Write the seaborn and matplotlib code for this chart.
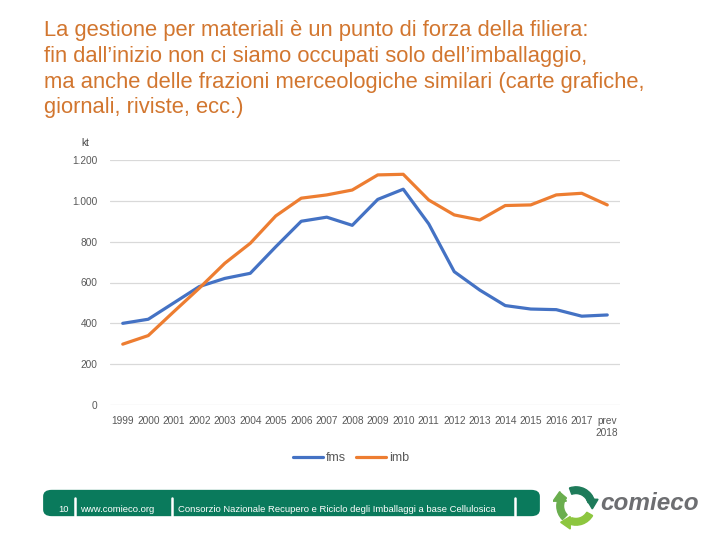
import matplotlib
matplotlib.use("Agg")
import matplotlib.pyplot as plt
from matplotlib.patches import FancyBboxPatch, Wedge, Polygon
from matplotlib.ticker import FuncFormatter
import seaborn as sns
import pandas as pd

# Data (kt)
years = ["1999", "2000", "2001", "2002", "2003", "2004", "2005", "2006", "2007", "2008",
         "2009", "2010", "2011", "2012", "2013", "2014", "2015", "2016", "2017", "prev\n2018"]
fms = [400, 420, 500, 580, 620, 645, 775, 900, 920, 880,
       1007, 1057, 887, 653, 563, 487, 470, 467, 435, 441]
imb = [298, 340, 457, 572, 694, 792, 926, 1013, 1029, 1053,
       1127, 1130, 1004, 931, 906, 977, 980, 1029, 1037, 980]
series_names = ["fms", "imb"]
series_colors = ["#4472C4", "#ED7D31"]

title_lines = [
    "La gestione per materiali è un punto di forza della filiera:",
    "fin dall\u2019inizio non ci siamo occupati solo dell\u2019imballaggio,",
    "ma anche delle frazioni merceologiche similari (carte grafiche,",
    "giornali, riviste, ecc.)",
]
footer_parts = ["10", "www.comieco.org",
                "Consorzio Nazionale Recupero e Riciclo degli Imballaggi a base Cellulosica"]

df = pd.DataFrame({
    "pos": list(range(len(years))) * 2,
    "value": fms + imb,
    "serie": ["fms"] * len(fms) + ["imb"] * len(imb),
})

sns.set_theme(style="white")
plt.rcParams["font.family"] = ["Liberation Sans", "DejaVu Sans"]

W, H = 720, 540
fig = plt.figure(figsize=(7.2, 5.4), dpi=100)

def fx(px):
    return px / W

def fy(py):
    return 1 - py / H

# Title
fig.text(fx(44), fy(20), "\n".join(title_lines), ha="left", va="top",
         fontsize=15.8, color="#D2762F", linespacing=1.3)

# Chart axes
ax = fig.add_axes([fx(110), fy(405), fx(620) - fx(110), fy(160) - fy(405)])
sns.lineplot(data=df, x="pos", y="value", hue="serie", hue_order=series_names,
             palette=series_colors, linewidth=2.3, ax=ax, legend=False)
ax.set_xlim(-0.5, len(years) - 0.5)
ax.set_ylim(0, 1200)
ax.set_yticks(range(0, 1201, 200))
ax.yaxis.set_major_formatter(FuncFormatter(lambda v, p: f"{v:,.0f}".replace(",", ".")))
ax.set_xticks(range(len(years)))
ax.set_xticklabels(years)
ax.tick_params(axis="both", length=0, labelsize=7.3, colors="#595959")
ax.tick_params(axis="x", pad=8)
ax.tick_params(axis="y", pad=9)
ax.grid(axis="y", color="#D9D9D9", linewidth=0.9)
ax.grid(axis="x", visible=False)
for s in ax.spines.values():
    s.set_visible(False)
ax.set_xlabel("")
ax.set_ylabel("")
fig.text(fx(81), fy(143), "kt", fontsize=7.3, color="#404040", ha="left", va="center")

# Legend
handles = [plt.Line2D([], [], color=c, lw=2.3) for c in series_colors]
fig.legend(handles, series_names, loc="center", bbox_to_anchor=(fx(351), fy(458)),
           ncol=2, frameon=False, fontsize=9, labelcolor="#595959",
           handlelength=2.4, handletextpad=0.25, columnspacing=0.8)

# Footer bar
bar = FancyBboxPatch((fx(46), fy(514)), fx(537) - fx(46), fy(492) - fy(514),
                     boxstyle="round,pad=0.004,rounding_size=0.012",
                     transform=fig.transFigure, facecolor="#0A7A5C",
                     edgecolor="none")
fig.add_artist(bar)
sep_x = [75, 172, 515]
for sx in sep_x:
    fig.add_artist(plt.Line2D([fx(sx), fx(sx)], [fy(516), fy(498)],
                              transform=fig.transFigure, color="white", lw=1.8))
text_x = [69, 80, 178]
aligns = ["right", "left", "left"]
for tx, t, a in zip(text_x, footer_parts, aligns):
    fig.text(fx(tx), fy(509), t, ha=a, va="center", fontsize=6.8, color="white",
             family=["Liberation Sans Narrow", "Liberation Sans", "DejaVu Sans"])

# Logo
lax = fig.add_axes([fx(553), fy(531), fx(599) - fx(553), fy(481) - fy(531)])
lax.set_xlim(-1.2, 1.2)
lax.set_ylim(-1.25, 1.25)
lax.set_aspect("equal")
lax.axis("off")
lax.add_patch(Wedge((0, 0), 1.0, 15, 110, width=0.35, color="#1E7B5A"))
lax.add_patch(Polygon([[0.55, 0.35], [1.15, 0.35], [0.85, -0.15]], color="#1E7B5A"))
lax.add_patch(Wedge((0, 0), 1.0, 140, 225, width=0.35, color="#6AAE4E"))
lax.add_patch(Polygon([[-1.2, 0.25], [-0.5, 0.25], [-0.85, 0.75]], color="#6AAE4E"))
lax.add_patch(Wedge((0, 0), 1.0, 250, 330, width=0.35, color="#8DC63F"))
lax.add_patch(Polygon([[-0.3, -0.55], [-0.3, -1.2], [-0.8, -0.85]], color="#8DC63F"))
fig.text(fx(600), fy(503), "comieco", ha="left", va="center", fontsize=17.5,
         fontweight="bold", fontstyle="italic", color="#6D6E71")

fig.savefig("out.png", dpi=100)
